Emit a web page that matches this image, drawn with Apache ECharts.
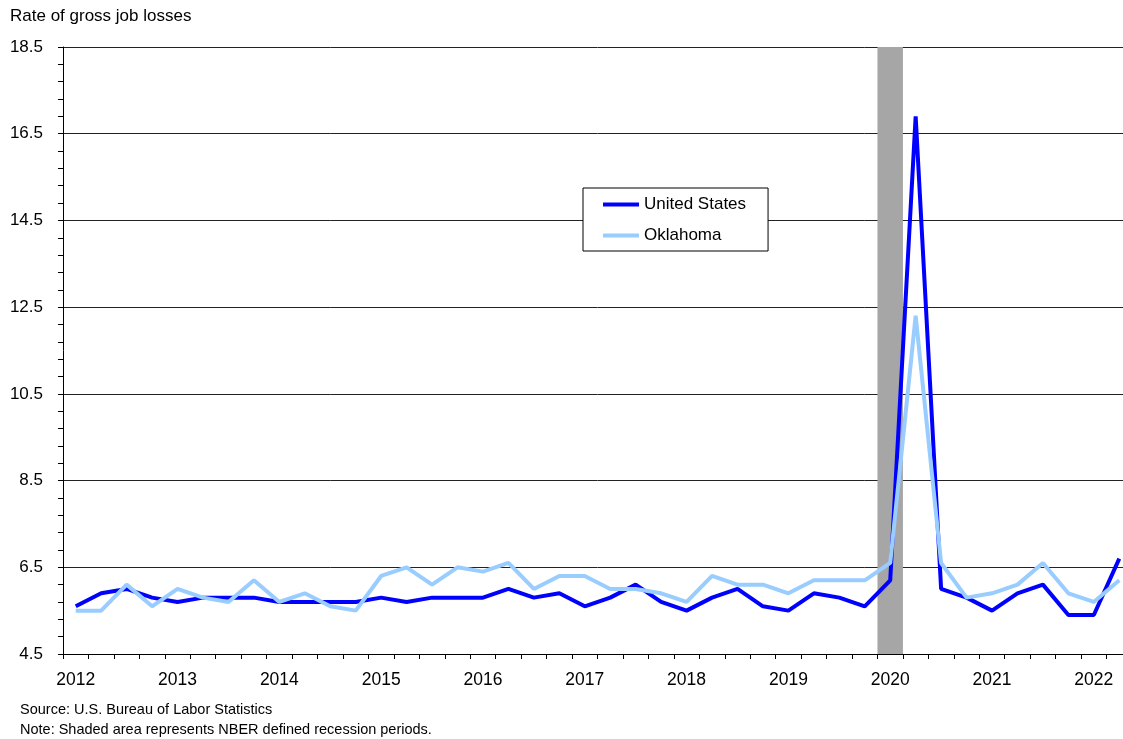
<!DOCTYPE html>
<html>
<head>
<meta charset="utf-8">
<script src="https://cdn.jsdelivr.net/npm/echarts@6/dist/echarts.min.js"></script>
<style>
html,body{margin:0;padding:0;background:#fff;overflow:hidden;width:1123px;height:739px;}
#chart{width:1132px;height:739px;}
</style>
</head>
<body>
<div id="chart"></div>
<script>
const quarters = [
  '2012Q1','2012Q2','2012Q3','2012Q4',
  '2013Q1','2013Q2','2013Q3','2013Q4',
  '2014Q1','2014Q2','2014Q3','2014Q4',
  '2015Q1','2015Q2','2015Q3','2015Q4',
  '2016Q1','2016Q2','2016Q3','2016Q4',
  '2017Q1','2017Q2','2017Q3','2017Q4',
  '2018Q1','2018Q2','2018Q3','2018Q4',
  '2019Q1','2019Q2','2019Q3','2019Q4',
  '2020Q1','2020Q2','2020Q3','2020Q4',
  '2021Q1','2021Q2','2021Q3','2021Q4',
  '2022Q1','2022Q2'
];
const unitedStates = [
  5.6, 5.9, 6.0, 5.8,
  5.7, 5.8, 5.8, 5.8,
  5.7, 5.7, 5.7, 5.7,
  5.8, 5.7, 5.8, 5.8,
  5.8, 6.0, 5.8, 5.9,
  5.6, 5.8, 6.1, 5.7,
  5.5, 5.8, 6.0, 5.6,
  5.5, 5.9, 5.8, 5.6,
  6.2, 16.9, 6.0, 5.8,
  5.5, 5.9, 6.1, 5.4,
  5.4, 6.7
];
const oklahoma = [
  5.5, 5.5, 6.1, 5.6,
  6.0, 5.8, 5.7, 6.2,
  5.7, 5.9, 5.6, 5.5,
  6.3, 6.5, 6.1, 6.5,
  6.4, 6.6, 6.0, 6.3,
  6.3, 6.0, 6.0, 5.9,
  5.7, 6.3, 6.1, 6.1,
  5.9, 6.2, 6.2, 6.2,
  6.6, 12.3, 6.6, 5.8,
  5.9, 6.1, 6.6, 5.9,
  5.7, 6.2
];
const recessionQuarters = ['2020Q1'];
const yMin = 4.5, yMax = 18.5, yStep = 2;

const FONT = '"Liberation Sans", Arial, sans-serif';
const recessionData = quarters.map(q => recessionQuarters.includes(q) ? yMax : null);

const chart = echarts.init(document.getElementById('chart'));
chart.setOption({
  animation: false,
  backgroundColor: '#fff',
  textStyle: { fontFamily: FONT, color: '#000' },
  grid: { left: 63, top: 47, bottom: 85, right: 0, containLabel: false },
  legend: {
    data: ['United States', 'Oklahoma'],
    orient: 'vertical',
    left: 583, top: 188,
    padding: [8, 22, 7, 20],
    itemGap: 14,
    itemWidth: 36, itemHeight: 4,
    icon: 'rect',
    borderColor: '#000', borderWidth: 1,
    backgroundColor: '#fff',
    textStyle: { fontFamily: FONT, fontSize: 17, color: '#000', lineHeight: 17 }
  },
  xAxis: {
    type: 'category',
    data: quarters,
    boundaryGap: true,
    axisLine: { lineStyle: { color: '#000', width: 1 } },
    axisTick: { show: true, interval: 0, length: 5, lineStyle: { color: '#000' } },
    axisLabel: {
      interval: 3, margin: 17, fontSize: 17.5, color: '#000', fontFamily: FONT,
      formatter: v => v.slice(0, 4)
    },
    splitLine: { show: false }
  },
  yAxis: {
    type: 'value',
    min: yMin, max: yMax, interval: yStep,
    axisLine: { show: true, lineStyle: { color: '#000', width: 1 } },
    axisTick: { show: true, length: 5, lineStyle: { color: '#000' } },
    minorTick: { show: true, splitNumber: 5, length: 5, lineStyle: { color: '#000' } },
    axisLabel: { margin: 20, fontSize: 17, color: '#000', fontFamily: FONT,
      formatter: v => v.toFixed(1) },
    splitLine: { show: true, lineStyle: { color: '#222', width: 1 } }
  },
  graphic: [
    { type: 'text', left: 10, top: 8, style: { text: 'Rate of gross job losses', font: '17px ' + FONT, fill: '#000' } },
    { type: 'text', left: 20, top: 702, style: { text: 'Source: U.S. Bureau of Labor Statistics', font: '14.5px ' + FONT, fill: '#000' } },
    { type: 'text', left: 20, top: 722, style: { text: 'Note: Shaded area represents NBER defined recession periods.', font: '14.5px ' + FONT, fill: '#000' } }
  ],
  series: [
    {
      name: 'Recession', type: 'bar', data: recessionData,
      barWidth: '100%', barCategoryGap: '0%', clip: true,
      itemStyle: { color: '#A6A6A6' }, silent: true
    },
    {
      name: 'United States', type: 'line', data: unitedStates,
      symbol: 'none', lineStyle: { color: '#0000FF', width: 4 },
      itemStyle: { color: '#0000FF' }
    },
    {
      name: 'Oklahoma', type: 'line', data: oklahoma,
      symbol: 'none', lineStyle: { color: '#99CCFF', width: 4 },
      itemStyle: { color: '#99CCFF' }
    }
  ]
});
</script>
</body>
</html>
